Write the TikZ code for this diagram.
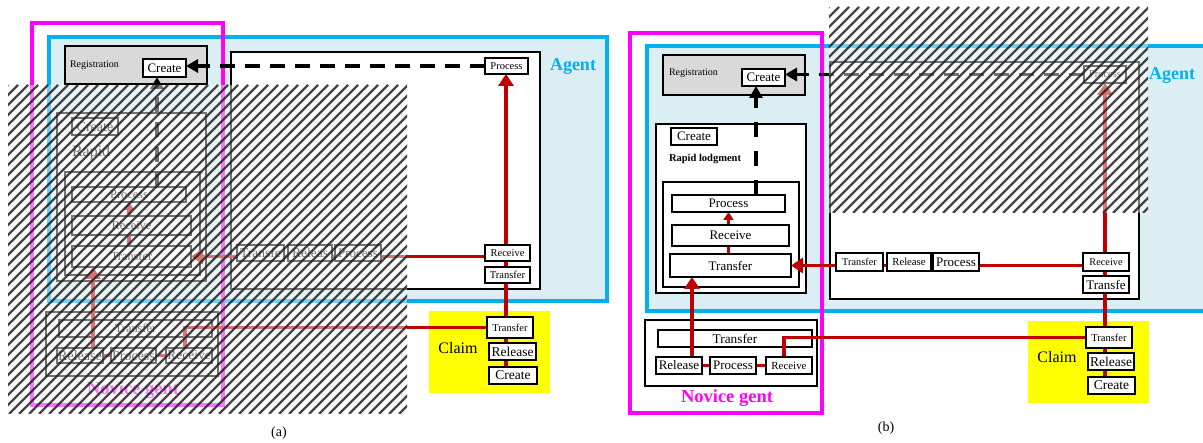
\documentclass[tikz,border=0pt]{standalone}
\usepackage{fontspec}
\setmainfont{Liberation Serif}
\usetikzlibrary{arrows.meta}
\definecolor{mag}{HTML}{FF00FF}
\definecolor{cyn}{HTML}{00B0F0}
\definecolor{lblue}{HTML}{DAEEF3}
\definecolor{rgray}{HTML}{D9D9D9}
\definecolor{ylw}{HTML}{FFFF00}
\definecolor{dred}{HTML}{C00000}
\newcommand\fs[1]{\fontsize{#1}{#1}\selectfont}
\newcommand\bx[7][]{\node[bxs,#1,minimum width={#5-#3},minimum height={#6-#4}] (#2) at ({(#3+#5)/2},{(#4+#6)/2}) {#7};}
\newcommand\hatch[4]{%
 \begin{scope}
 \clip (#1,#2) rectangle (#3,#4);
 \fill[white,opacity=0.45] (#1,#2) rectangle (#3,#4);
 \pgfmathsetmacro\hh{#4-#2}
 \pgfmathtruncatemacro\nn{(#3-#1+\hh)/10+1}
 \foreach \i in {0,...,\nn} \draw[hatchline] ({#1-\hh+10*\i},#4) -- ++(\hh,-\hh);
 \end{scope}}
\pgfdeclarelayer{back}
\pgfdeclarelayer{conn}
\pgfdeclarelayer{front}
\pgfsetlayers{back,conn,main,front}
\tikzset{
 bxs/.style={draw=black,line width=2pt,fill=white,inner sep=0pt,outer sep=0pt,font=\fs{13}},
 cont/.style={draw=black,line width=2pt,fill=white},
 magbox/.style={draw=mag,line width=4pt,fill=none},
 agentbg/.style={draw=cyn,line width=4.5pt,fill=lblue},
 regbox/.style={draw=black,line width=2pt,fill=rgray},
 claimbg/.style={draw=none,fill=ylw},
 redln/.style={draw=dred,line width=3.5pt},
 redarr/.style={redln,-{Triangle[width=15pt,length=12pt]}},
 smarr/.style={redln,-{Triangle[width=10pt,length=8pt]}},
 dashln/.style={draw=black,line width=3.5pt,dash pattern=on 15pt off 10pt},
 dasharr/.style={dashln,-{Triangle[width=13pt,length=12pt]}},
 hatchline/.style={draw=black!85,line width=2.2pt,opacity=0.85},
 lbl/.style={inner sep=0pt,outer sep=0pt},
}
\begin{document}
\begin{tikzpicture}[x=1pt,y=-1pt]
\useasboundingbox (0,0) rectangle (1203,443);
\clip (0,0) rectangle (1203,443);
% ================= panel (a) =================
\begin{pgfonlayer}{back}
\bx[agentbg]{aAgentBg}{49}{37}{607}{301}{}
\bx[magbox]{aMag}{32}{23}{223}{405}{}
\bx[regbox]{aReg}{65}{46}{207}{84}{}
\bx[cont,line width=2.5pt]{aAgent}{231}{52}{540}{289}{}
\bx[cont]{aRapid}{57}{113}{206}{281}{}
\bx[cont]{aInner}{65}{172}{200}{275}{}
\bx[cont]{aNov}{46}{312}{218}{376}{}
\bx[font=\fs{12.3}]{aNvTr}{59}{320}{212}{337}{Transfer}
\bx[claimbg]{aClaim}{429}{311}{550}{393}{}
\end{pgfonlayer}
\node[lbl,anchor=west,font=\fs{10}] (aRegT) at (70,65) {Registration};
\bx{aRCr}{143}{59}{186}{77}{Create}
\node[lbl,font=\bfseries\fs{18},text=cyn] (aAgentT) at (573,67) {Agent};
\bx[font=\fs{14}]{aRpCr}{72}{118}{118}{135}{Create}
\node[lbl,anchor=west,font=\fs{16}] (aRapidT) at (72,153) {Rapid};
\bx[font=\fs{12.3}]{aRpPr}{72}{187}{186}{202}{Process}
\bx[font=\fs{12.3}]{aRpRe}{72}{216}{191}{235}{Receive}
\bx[font=\fs{12.3}]{aRpTr}{72}{246}{191}{267}{Transfer}
\bx[font=\fs{10.5}]{aAgPr}{485}{58}{528}{74}{Process}
\bx[font=\fs{10.5}]{aAgRe}{485}{245}{530}{261}{Receive}
\bx[font=\fs{10.5}]{aAgTr}{485}{267}{530}{283}{Transfer}
\bx[font=\fs{13.5}]{aRowTr}{237}{245}{284}{261}{Transfe}
\bx[font=\fs{13.5}]{aRowRl}{288}{245}{332}{261}{Releas}
\bx[font=\fs{13}]{aRowPr}{335}{245}{381}{261}{Process}
\bx[font=\fs{14}]{aNvRl}{57}{348}{103}{363}{Release}
\bx[font=\fs{14}]{aNvPr}{111}{348}{156}{363}{Process}
\bx[font=\fs{13.5}]{aNvRe}{166}{348}{212}{363}{Receive}
\node[lbl,font=\bfseries\fs{18.5},text=mag] (aNovT) at (133,390) {Novice gent};
\node[lbl,font=\fs{16}] (aClaimT) at (458,348) {Claim};
\bx[font=\fs{10.5}]{aClTr}{487}{317}{533}{338}{Transfer}
\bx[font=\fs{13.5}]{aClRl}{489}{343}{536}{360}{Release}
\bx[font=\fs{13.5}]{aClCr}{489}{367}{537}{384}{Create}
\node[lbl,font=\fs{14}] (aLab) at (279,433) {(a)};
\coordinate (aDv) at (157,0);
\coordinate (aVx) at (506,0);
\coordinate (aUx) at (93,0);
\coordinate (aRx) at (185,0);
\begin{pgfonlayer}{conn}
\draw[dasharr] (aAgPr.west) -- (aAgPr.west -| aRCr.east);
\draw[dasharr] (aRpPr.north -| aDv) -- (aRCr.south -| aDv);
\draw[redarr] (aClTr.north -| aVx) -- (aAgPr.south -| aVx);
\draw[redln] (aClTr.south -| aVx) -- (aClCr.north -| aVx);
\draw[redarr] (aRpTr.east -| aAgRe.west) -- (aRpTr.east);
\draw[redarr] (aNvRl.north -| aUx) -- (aRpTr.south -| aUx);
\draw[smarr] (aRpRe.north -| aRpPr.south) -- (aRpPr.south);
\draw[redln] (aRpTr.north -| aRpPr.south) -- (aRpRe.south -| aRpPr.south);
\draw[redln] (aNvRl.east) -- (aNvPr.west);
\draw[redln] (aNvPr.east) -- (aNvRe.west);
\draw[redln] (aClTr.west) -| (aNvRe.north -| aRx);
\end{pgfonlayer}
% ================= panel (b) =================
\begin{pgfonlayer}{back}
\bx[agentbg]{bAgentBg}{647}{46}{1215}{311}{}
\bx[magbox]{bMag}{630}{33}{822}{413}{}
\bx[regbox]{bReg}{663}{55}{805}{95}{}
\bx[cont,line width=2.5pt]{bAgent}{830}{62}{1139}{299}{}
\bx[cont]{bRapid}{656}{124}{806}{293}{}
\bx[cont]{bInner}{663}{182}{799}{287}{}
\bx[cont]{bNov}{645}{320}{817}{386}{}
\bx[font=\fs{13.3}]{bNvTr}{658}{330}{812}{347}{Transfer}
\bx[claimbg]{bClaim}{1028}{321}{1149}{403}{}
\end{pgfonlayer}
\node[lbl,anchor=west,font=\fs{10}] (bRegT) at (669,73) {Registration};
\bx{bRCr}{742}{69}{785}{86}{Create}
\node[lbl,font=\bfseries\fs{18},text=cyn] (bAgentT) at (1172,76) {Agent};
\bx{bRpCr}{671}{128}{717}{145}{Create}
\node[lbl,anchor=west,font=\bfseries\fs{10.5}] (bRapidT) at (669,159) {Rapid lodgment};
\bx{bRpPr}{672}{195}{785}{212}{Process}
\bx{bRpRe}{672}{225}{789}{246}{Receive}
\bx{bRpTr}{670}{254}{791}{277}{Transfer}
\bx[font=\fs{10.5}]{bAgPr}{1084}{66}{1126}{83}{Process}
\bx[font=\fs{10.3}]{bAgRe}{1083}{253}{1129}{271}{Receive}
\bx{bAgTr}{1083}{276}{1129}{293}{Transfe}
\bx[font=\fs{10.3}]{bRowTr}{836}{253}{883}{271}{Transfer}
\bx[font=\fs{10.7}]{bRowRl}{887}{253}{931}{271}{Release}
\bx{bRowPr}{933}{253}{979}{271}{Process}
\bx{bNvRl}{656}{357}{702}{374}{Release}
\bx{bNvPr}{710}{357}{756}{374}{Process}
\bx[font=\fs{10.9}]{bNvRe}{766}{357}{812}{374}{Receive}
\node[lbl,font=\bfseries\fs{18.5},text=mag] (bNovT) at (727,398) {Novice gent};
\node[lbl,font=\fs{16}] (bClaimT) at (1057,357) {Claim};
\bx[font=\fs{10.5}]{bClTr}{1086}{327}{1132}{348}{Transfer}
\bx[font=\fs{13.5}]{bClRl}{1088}{353}{1134}{370}{Release}
\bx[font=\fs{13.5}]{bClCr}{1088}{377}{1135}{394}{Create}
\node[lbl,font=\fs{14}] (bLab) at (886,428) {(b)};
\coordinate (bDv) at (756,0);
\coordinate (bVx) at (1105,0);
\coordinate (bUx) at (692,0);
\coordinate (bRx) at (784,0);
\begin{pgfonlayer}{conn}
\draw[dasharr] (bAgPr.west) -- (bAgPr.west -| bRCr.east);
\draw[dasharr,dash pattern=on 15pt off 14pt] (bRpPr.north -| bDv) -- (bRCr.south -| bDv);
\draw[redarr] (bClTr.north -| bVx) -- (bAgPr.south -| bVx);
\draw[redln] (bClTr.south -| bVx) -- (bClCr.north -| bVx);
\draw[redarr] (bRpTr.east -| bAgRe.west) -- (bRpTr.east);
\draw[redarr] (bNvRl.north -| bUx) -- (bRpTr.south -| bUx);
\draw[smarr] (bRpRe.north -| bRpPr.south) -- (bRpPr.south);
\draw[redln] (bRpTr.north -| bRpPr.south) -- (bRpRe.south -| bRpPr.south);
\draw[redln] (bNvRl.east) -- (bNvPr.west);
\draw[redln] (bNvPr.east) -- (bNvRe.west);
\draw[redln] (bClTr.west) -| (bNvRe.north -| bRx);
\end{pgfonlayer}
% ================= hatched overlays =================
\begin{pgfonlayer}{front}
\hatch{8}{85}{407}{414}
\hatch{829}{7}{1148}{213}
\end{pgfonlayer}
\end{tikzpicture}
\end{document}
